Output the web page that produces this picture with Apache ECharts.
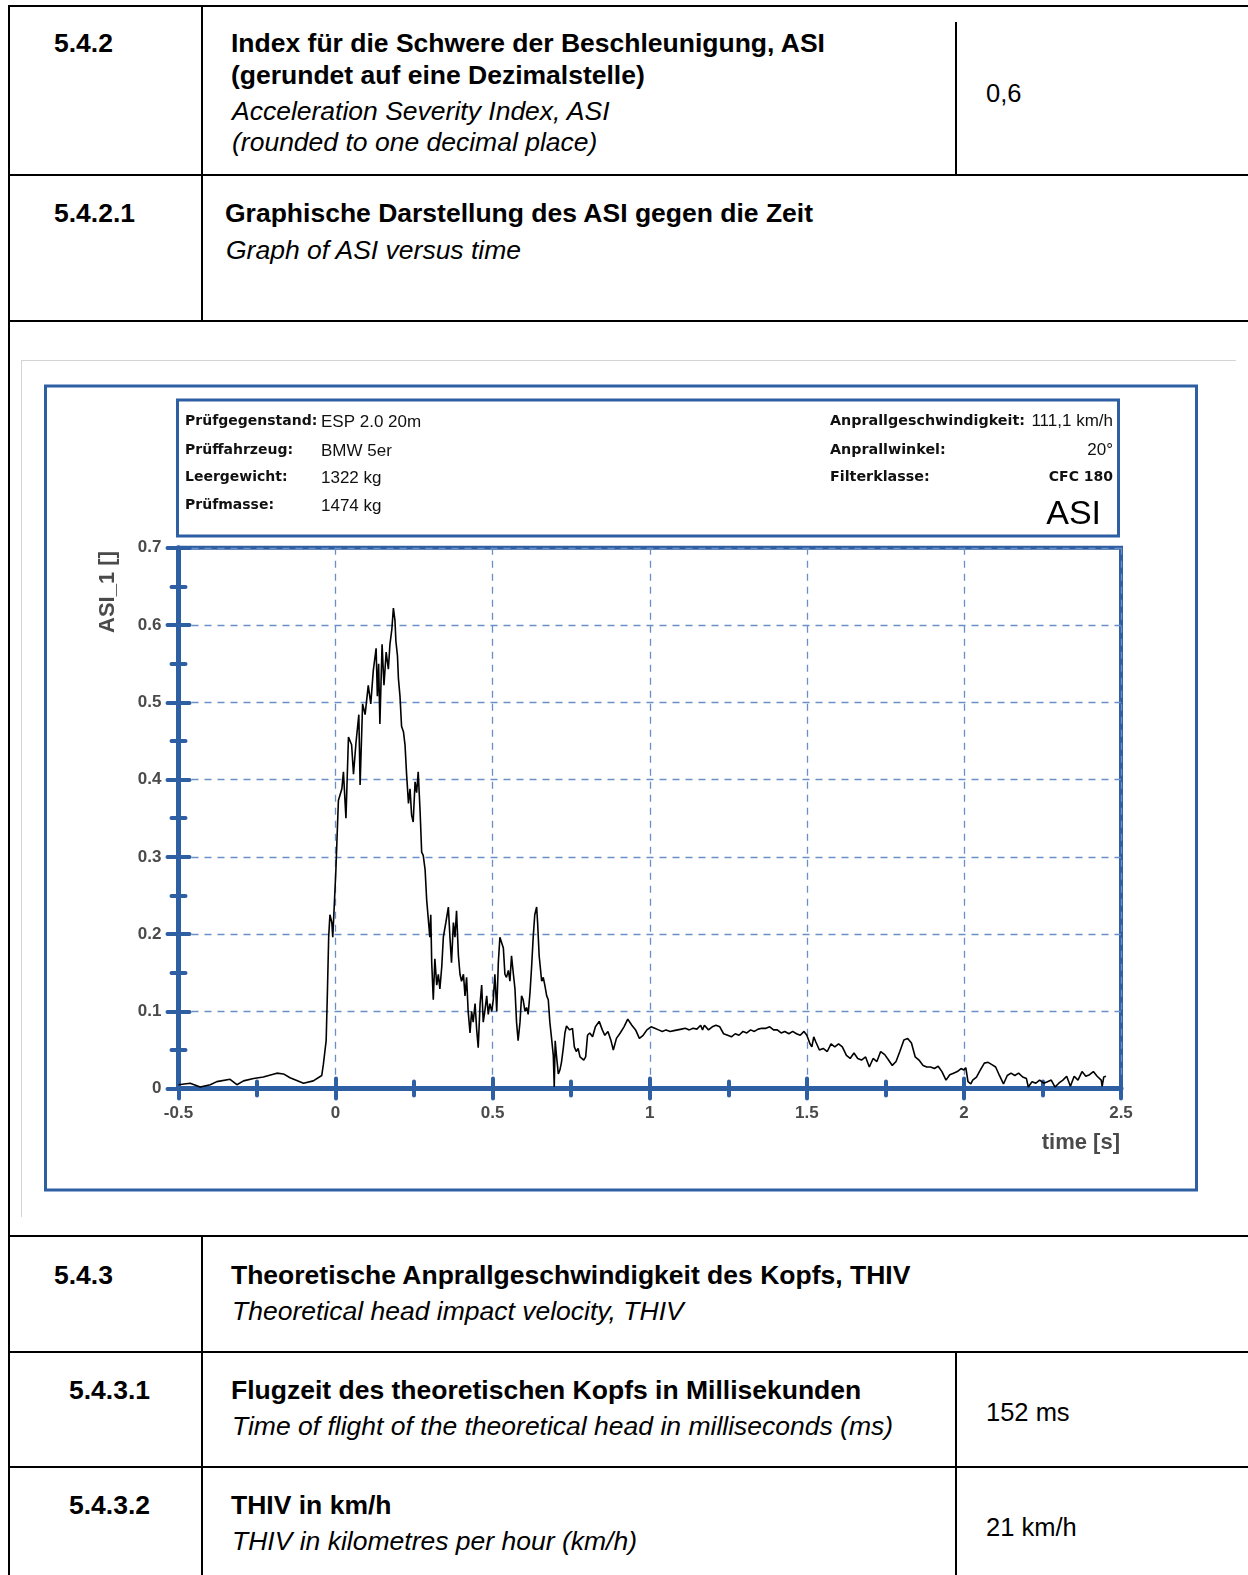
<!DOCTYPE html>
<html>
<head>
<meta charset="utf-8">
<script src="https://cdn.jsdelivr.net/npm/echarts@6/dist/echarts.min.js"></script>
<style>
  html, body { margin: 0; padding: 0; background: #fff; }
  body { width: 1248px; height: 1575px; position: relative; overflow: hidden; font-family: "Liberation Sans", Arial, sans-serif; color: #000; }
  .t { position: absolute; white-space: nowrap; line-height: 30px; height: 30px; }
  .b { font-weight: bold; font-size: 26.5px; }
  .i { font-style: italic; font-size: 26.5px; }
  .v { font-size: 25.5px; }
  .hl { position: absolute; background: #000; height: 2px; }
  .vl { position: absolute; background: #000; width: 2px; }
  #chart { position: absolute; left: 0; top: 330px; width: 1248px; height: 900px; }
</style>
</head>
<body>
<!-- table lines -->
<div class="hl" style="left:8px; top:5px; width:1240px;"></div>
<div class="vl" style="left:8px; top:5px; height:1570px;"></div>
<div class="hl" style="left:8px; top:174px; width:1240px;"></div>
<div class="hl" style="left:8px; top:320px; width:1240px;"></div>
<div class="vl" style="left:201px; top:5px; height:316px; width:1.5px;"></div>
<div class="vl" style="left:955px; top:22px; height:153px; width:1.5px;"></div>
<div class="hl" style="left:8px; top:1235px; width:1240px;"></div>
<div class="hl" style="left:8px; top:1351px; width:1240px;"></div>
<div class="hl" style="left:8px; top:1466px; width:1240px;"></div>
<div class="vl" style="left:201px; top:1235px; height:340px; width:1.5px;"></div>
<div class="vl" style="left:955px; top:1351px; height:224px; width:1.5px;"></div>
<!-- picture frame (light grey) -->
<div style="position:absolute; left:21px; top:360px; width:1215px; height:1px; background:#d4d4d4;"></div>
<div style="position:absolute; left:21px; top:360px; width:1px; height:857px; background:#d4d4d4;"></div>

<!-- table texts -->
<div class="t b" style="left:54px; top:28px;">5.4.2</div>
<div class="t b" style="left:231px; top:28px;">Index für die Schwere der Beschleunigung, ASI</div>
<div class="t b" style="left:231px; top:60px;">(gerundet auf eine Dezimalstelle)</div>
<div class="t i" style="left:232px; top:96px;">Acceleration Severity Index, ASI</div>
<div class="t i" style="left:232px; top:127px;">(rounded to one decimal place)</div>
<div class="t v" style="left:986px; top:78px;">0,6</div>

<div class="t b" style="left:54px; top:198px;">5.4.2.1</div>
<div class="t b" style="left:225px; top:198px;">Graphische Darstellung des ASI gegen die Zeit</div>
<div class="t i" style="left:226px; top:235px;">Graph of ASI versus time</div>

<div class="t b" style="left:54px; top:1260px;">5.4.3</div>
<div class="t b" style="left:231px; top:1260px;">Theoretische Anprallgeschwindigkeit des Kopfs, THIV</div>
<div class="t i" style="left:232px; top:1296px;">Theoretical head impact velocity, THIV</div>

<div class="t b" style="left:69px; top:1375px;">5.4.3.1</div>
<div class="t b" style="left:231px; top:1375px;">Flugzeit des theoretischen Kopfs in Millisekunden</div>
<div class="t i" style="left:232px; top:1411px;">Time of flight of the theoretical head in milliseconds (ms)</div>
<div class="t v" style="left:986px; top:1397px;">152 ms</div>

<div class="t b" style="left:69px; top:1490px;">5.4.3.2</div>
<div class="t b" style="left:231px; top:1490px;">THIV in km/h</div>
<div class="t i" style="left:232px; top:1526px;">THIV in kilometres per hour (km/h)</div>
<div class="t v" style="left:986px; top:1512px;">21 km/h</div>

<div id="chart"></div>

<script>
// ---- data (time in s, ASI value) ----
const timeS = [
  -0.500, -0.463, -0.431, -0.399, -0.378, -0.336, -0.314, -0.293, -0.261, -0.230,
  -0.187, -0.166, -0.145, -0.102, -0.071, -0.044, -0.039, -0.030, -0.026, -0.022,
  -0.018, -0.012, -0.009, -0.005, 0.001, 0.006, 0.009, 0.020, 0.025, 0.033,
  0.041, 0.051, 0.057, 0.065, 0.074, 0.078, 0.086, 0.094, 0.104, 0.112,
  0.120, 0.129, 0.133, 0.137, 0.141, 0.148, 0.154, 0.161, 0.168, 0.173,
  0.179, 0.184, 0.189, 0.192, 0.197, 0.200, 0.205, 0.210, 0.216, 0.221,
  0.226, 0.232, 0.237, 0.242, 0.247, 0.253, 0.258, 0.263, 0.269, 0.274,
  0.279, 0.285, 0.290, 0.295, 0.300, 0.303, 0.306, 0.311, 0.316, 0.322,
  0.327, 0.332, 0.338, 0.343, 0.351, 0.359, 0.364, 0.369, 0.375, 0.380,
  0.385, 0.391, 0.396, 0.401, 0.407, 0.412, 0.417, 0.422, 0.428, 0.433,
  0.438, 0.444, 0.449, 0.454, 0.460, 0.465, 0.470, 0.475, 0.481, 0.486,
  0.491, 0.497, 0.502, 0.507, 0.513, 0.518, 0.523, 0.528, 0.534, 0.539,
  0.544, 0.550, 0.555, 0.560, 0.566, 0.571, 0.576, 0.581, 0.587, 0.592,
  0.597, 0.603, 0.608, 0.613, 0.619, 0.624, 0.629, 0.634, 0.640, 0.643,
  0.648, 0.656, 0.661, 0.666, 0.672, 0.677, 0.682, 0.687, 0.693, 0.696,
  0.699, 0.703, 0.709, 0.714, 0.719, 0.725, 0.730, 0.735,
  0.745, 0.754, 0.760, 0.766, 0.772, 0.778, 0.784, 0.790, 0.796, 0.802,
  0.809, 0.818, 0.827, 0.839, 0.849, 0.857, 0.867, 0.876, 0.884, 0.894,
  0.906, 0.918, 0.930, 0.943, 0.955, 0.967, 0.979, 0.991, 1.004, 1.016,
  1.028, 1.040, 1.052, 1.065, 1.077, 1.089, 1.101, 1.113, 1.126, 1.138,
  1.150, 1.162, 1.168, 1.174, 1.187, 1.199, 1.211, 1.223, 1.235, 1.248,
  1.260, 1.272, 1.284, 1.297, 1.309, 1.321, 1.333, 1.345, 1.357, 1.370,
  1.382, 1.394, 1.406, 1.418, 1.430, 1.443, 1.455, 1.467, 1.479, 1.491,
  1.500, 1.510, 1.516, 1.522, 1.528, 1.540, 1.552, 1.565, 1.577, 1.589,
  1.601, 1.613, 1.626, 1.638, 1.650, 1.662, 1.674, 1.687, 1.699, 1.711,
  1.723, 1.735, 1.748, 1.760, 1.772, 1.784, 1.796, 1.809, 1.821, 1.833,
  1.845, 1.857, 1.870, 1.882, 1.894, 1.906, 1.918, 1.930, 1.943, 1.955,
  1.967, 1.979, 1.991, 2.000, 2.006, 2.013, 2.022, 2.028, 2.040, 2.052,
  2.065, 2.077, 2.089, 2.101, 2.113, 2.126, 2.138, 2.150, 2.162, 2.174,
  2.187, 2.199, 2.205, 2.217, 2.229, 2.241, 2.254, 2.266, 2.278, 2.290,
  2.302, 2.315, 2.327, 2.339, 2.351, 2.363, 2.376, 2.388, 2.400, 2.412,
  2.424, 2.437, 2.440, 2.445, 2.452
];
const asiValues = [
  0.005, 0.007, 0.002, 0.005, 0.009, 0.012, 0.005, 0.010, 0.013, 0.015,
  0.020, 0.019, 0.014, 0.007, 0.010, 0.017, 0.031, 0.062, 0.125, 0.196,
  0.225, 0.215, 0.196, 0.230, 0.283, 0.340, 0.373, 0.388, 0.410, 0.350,
  0.455, 0.445, 0.407, 0.448, 0.484, 0.393, 0.498, 0.484, 0.522, 0.498,
  0.541, 0.570, 0.508, 0.550, 0.472, 0.575, 0.522, 0.565, 0.543, 0.575,
  0.594, 0.622, 0.606, 0.579, 0.560, 0.531, 0.508, 0.469, 0.462, 0.445,
  0.407, 0.369, 0.388, 0.354, 0.345, 0.397, 0.383, 0.410, 0.359, 0.306,
  0.302, 0.283, 0.244, 0.220, 0.196, 0.225, 0.163, 0.115, 0.168, 0.134,
  0.148, 0.129, 0.158, 0.196, 0.215, 0.235, 0.196, 0.163, 0.215, 0.196,
  0.230, 0.172, 0.148, 0.139, 0.148, 0.120, 0.144, 0.100, 0.072, 0.100,
  0.086, 0.110, 0.077, 0.053, 0.110, 0.134, 0.086, 0.100, 0.120, 0.096,
  0.110, 0.100, 0.115, 0.148, 0.100, 0.163, 0.196, 0.196, 0.182, 0.148,
  0.144, 0.153, 0.139, 0.172, 0.148, 0.129, 0.086, 0.062, 0.086, 0.120,
  0.115, 0.100, 0.105, 0.096, 0.125, 0.158, 0.196, 0.225, 0.235, 0.215,
  0.172, 0.139, 0.144, 0.134, 0.120, 0.115, 0.086, 0.067, 0.043, 0.002,
  0.062, 0.043, 0.019, 0.024, 0.034, 0.053, 0.072, 0.081,
  0.076, 0.078, 0.054, 0.048, 0.052, 0.041, 0.043, 0.037, 0.041, 0.069,
  0.072, 0.067, 0.080, 0.087, 0.076, 0.069, 0.074, 0.063, 0.050, 0.065,
  0.072, 0.080, 0.090, 0.082, 0.076, 0.065, 0.069, 0.076, 0.080, 0.078,
  0.076, 0.074, 0.076, 0.074, 0.075, 0.076, 0.077, 0.078, 0.076, 0.078,
  0.077, 0.082, 0.076, 0.082, 0.076, 0.080, 0.082, 0.080, 0.071, 0.069,
  0.067, 0.071, 0.069, 0.074, 0.072, 0.076, 0.074, 0.077, 0.078, 0.078,
  0.080, 0.076, 0.076, 0.072, 0.074, 0.071, 0.074, 0.071, 0.069, 0.074,
  0.069, 0.058, 0.054, 0.067, 0.061, 0.050, 0.052, 0.048, 0.058, 0.054,
  0.058, 0.054, 0.043, 0.039, 0.046, 0.039, 0.037, 0.041, 0.028, 0.039,
  0.035, 0.048, 0.044, 0.037, 0.030, 0.035, 0.048, 0.063, 0.065, 0.059,
  0.041, 0.037, 0.030, 0.028, 0.028, 0.026, 0.029, 0.022, 0.011, 0.018,
  0.020, 0.022, 0.026, 0.024, 0.027, 0.009, 0.006, 0.011, 0.015, 0.024,
  0.033, 0.034, 0.031, 0.028, 0.017, 0.006, 0.017, 0.020, 0.017, 0.020,
  0.015, 0.013, 0.002, 0.009, 0.007, 0.011, 0.007, 0.009, 0.011, 0.002,
  0.007, 0.011, 0.016, 0.003, 0.016, 0.011, 0.022, 0.016, 0.018, 0.022,
  0.016, 0.011, 0.003, 0.015, 0.016
];
const xTicks = { min: -0.5, max: 2.5, step: 0.5 };
const yTicks = { min: 0, max: 0.7, step: 0.1 };
const infoLeft = [
  ['Prüfgegenstand:', 'ESP 2.0 20m'],
  ['Prüffahrzeug:', 'BMW 5er'],
  ['Leergewicht:', '1322 kg'],
  ['Prüfmasse:', '1474 kg']
];
const infoRight = [
  ['Anprallgeschwindigkeit:', '111,1 km/h'],
  ['Anprallwinkel:', '20°'],
  ['Filterklasse:', 'CFC 180']
];

const BLUE = '#2e5fa3';
const GRIDC = '#6a8fc6';
const LABC = '#4a4a4a';
const OFF = 330; // container top offset

const chart = echarts.init(document.getElementById('chart'), null, { renderer: 'canvas' });

const rowsY = [91, 120, 147, 175];
const graphics = [
  { type: 'rect', shape: { x: 45.5, y: 386 - OFF, width: 1151, height: 804 }, style: { fill: 'none', stroke: BLUE, lineWidth: 3 }, silent: true },
  { type: 'rect', shape: { x: 177.5, y: 400 - OFF, width: 941, height: 136 }, style: { fill: 'none', stroke: BLUE, lineWidth: 3 }, silent: true },
  { type: 'text', x: 1101, y: 515 - OFF, style: { text: 'ASI', font: '34px "Liberation Sans", Arial, sans-serif', fill: '#000', align: 'right', verticalAlign: 'middle' } },
  { type: 'text', x: 107.5, y: 592 - OFF, rotation: Math.PI / 2, style: { text: 'ASI_1 []', font: 'bold 22px "Liberation Sans", Arial, sans-serif', fill: LABC, align: 'center', verticalAlign: 'middle' } },
  { type: 'text', x: 1120, y: 1143 - OFF, style: { text: 'time [s]', font: 'bold 22px "Liberation Sans", Arial, sans-serif', fill: LABC, align: 'right', verticalAlign: 'middle' } }
];
infoLeft.forEach((r, i) => {
  graphics.push({ type: 'text', x: 185, y: rowsY[i], style: { text: r[0], font: 'bold 14px "DejaVu Sans", sans-serif', fill: '#111', verticalAlign: 'middle' } });
  graphics.push({ type: 'text', x: 321, y: rowsY[i] + 1, style: { text: r[1], font: '17px "Liberation Sans", Arial, sans-serif', fill: '#111', verticalAlign: 'middle' } });
});
infoRight.forEach((r, i) => {
  graphics.push({ type: 'text', x: 830, y: rowsY[i], style: { text: r[0], font: 'bold 14.3px "DejaVu Sans", sans-serif', fill: '#111', verticalAlign: 'middle' } });
  graphics.push({ type: 'text', x: 1113, y: rowsY[i], style: { text: r[1], font: (i === 2 ? 'bold 14px "DejaVu Sans"' : '17px "Liberation Sans"') + ', sans-serif', fill: '#111', align: 'right', verticalAlign: 'middle' } });
});

const seriesData = timeS.map((t, i) => [t, asiValues[i]]);
const axisLab = { color: LABC, fontWeight: 'bold', fontSize: 17, fontFamily: '"Liberation Sans", Arial, sans-serif' };

chart.setOption({
  animation: false,
  grid: { left: 178.5, top: 217.8, width: 942.5, height: 540.8, show: true, borderColor: BLUE, borderWidth: 4, backgroundColor: 'transparent' },
  xAxis: [
    { type: 'value', min: xTicks.min, max: xTicks.max, interval: xTicks.step, position: 'bottom',
      axisLine: { onZero: false, lineStyle: { color: BLUE, width: 5 } },
      axisTick: { show: true, inside: false, length: 10, lineStyle: { color: BLUE, width: 4, cap: 'round' } },
      minorTick: { show: true, splitNumber: 2, length: 7, lineStyle: { color: BLUE, width: 4, cap: 'round' } },
      axisLabel: Object.assign({ margin: 16 }, axisLab),
      splitLine: { show: true, lineStyle: { color: GRIDC, width: 1.3, type: [7, 6] } } },
    { type: 'value', min: xTicks.min, max: xTicks.max, interval: xTicks.step, position: 'bottom',
      axisLine: { show: false, onZero: false },
      axisTick: { show: true, inside: true, length: 10, lineStyle: { color: BLUE, width: 4, cap: 'round' } },
      minorTick: { show: true, splitNumber: 2, length: 7, lineStyle: { color: BLUE, width: 4, cap: 'round' } },
      axisLabel: { show: false }, splitLine: { show: false } }
  ],
  yAxis: [
    { type: 'value', min: yTicks.min, max: yTicks.max, interval: yTicks.step, position: 'left',
      axisLine: { onZero: false, lineStyle: { color: BLUE, width: 5 } },
      axisTick: { show: true, inside: false, length: 11, lineStyle: { color: BLUE, width: 4, cap: 'round' } },
      minorTick: { show: true, splitNumber: 2, length: 7, lineStyle: { color: BLUE, width: 4, cap: 'round' } },
      axisLabel: Object.assign({ margin: 17 }, axisLab),
      splitLine: { show: true, lineStyle: { color: GRIDC, width: 1.3, type: [7, 6] } } },
    { type: 'value', min: yTicks.min, max: yTicks.max, interval: yTicks.step, position: 'left',
      axisLine: { show: false, onZero: false },
      axisTick: { show: true, inside: true, length: 11, lineStyle: { color: BLUE, width: 4, cap: 'round' } },
      minorTick: { show: true, splitNumber: 2, length: 7, lineStyle: { color: BLUE, width: 4, cap: 'round' } },
      axisLabel: { show: false }, splitLine: { show: false } }
  ],
  series: [{
    type: 'line', data: seriesData, xAxisIndex: 0, yAxisIndex: 0,
    showSymbol: false, symbol: 'none', smooth: false,
    lineStyle: { color: '#000', width: 1.6 }, z: 5
  }],
  graphic: graphics
});
</script>
</body>
</html>
